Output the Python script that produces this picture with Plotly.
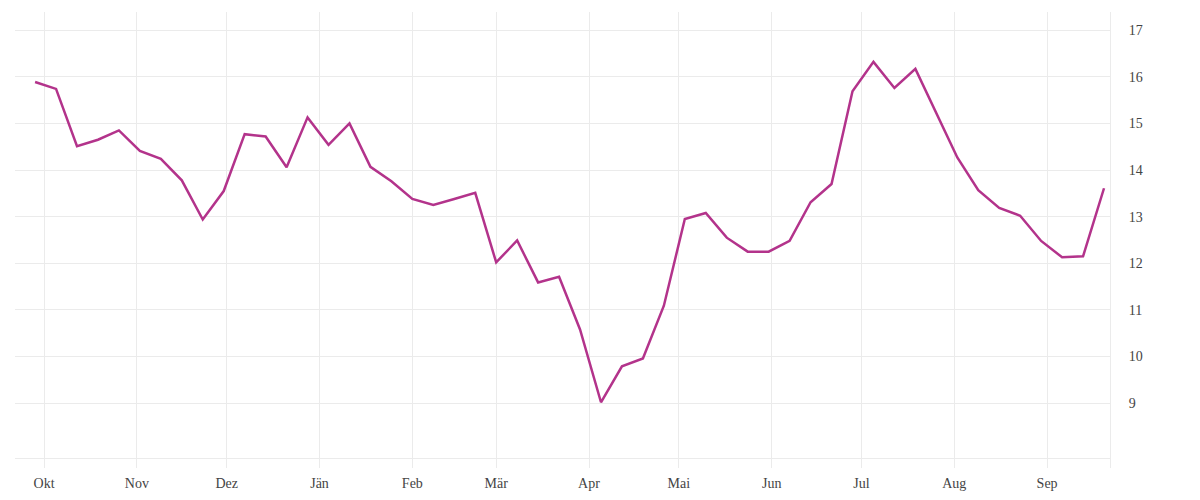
"""Weekly line chart with German month labels and right-hand y axis."""

import pandas as pd
import plotly.graph_objects as go

# Weekly values, starting Sunday 2014-09-28
start_date = "2014-09-28"
values = [
    15.89, 15.74, 14.51, 14.65, 14.85, 14.41, 14.24, 13.78, 12.94, 13.55,
    14.77, 14.72, 14.06, 15.13, 14.54, 15.00, 14.07, 13.76, 13.38, 13.25,
    13.38, 13.51, 12.02, 12.49, 11.59, 11.71, 10.58, 9.02, 9.79, 9.96,
    11.09, 12.95, 13.08, 12.55, 12.25, 12.25, 12.48, 13.31, 13.70, 15.69,
    16.32, 15.76, 16.17, 15.21, 14.27, 13.57, 13.19, 13.02, 12.48, 12.13,
    12.15, 13.61,
]

# Month ticks (Austrian German)
month_starts = [
    "2014-10-01", "2014-11-01", "2014-12-01", "2015-01-01", "2015-02-01",
    "2015-03-01", "2015-04-01", "2015-05-01", "2015-06-01", "2015-07-01",
    "2015-08-01", "2015-09-01",
]
month_labels = ["Okt", "Nov", "Dez", "Jän", "Feb", "Mär", "Apr", "Mai", "Jun", "Jul", "Aug", "Sep"]
y_ticks = [9, 10, 11, 12, 13, 14, 15, 16, 17]

dates = pd.date_range(start_date, periods=len(values), freq="7D")

grid = "#ebebeb"
text_color = "#444444"

fig = go.Figure(
    go.Scatter(
        x=dates,
        y=values,
        mode="lines",
        line={"color": "#b3338b", "width": 2.5},
        hoverinfo="x+y",
    )
)

# page body adds ~8px margin, so the figure is a bit smaller than the window
fig.update_layout(
    width=1192,
    height=492,
    margin={"l": 7, "r": 90, "t": 4, "b": 32},
    paper_bgcolor="white",
    plot_bgcolor="white",
    showlegend=False,
    font={"family": "Liberation Serif, serif", "size": 14, "color": text_color},
)

fig.update_xaxes(
    range=["2014-09-21 07:00", "2015-09-22"],
    tickvals=month_starts,
    ticktext=month_labels,
    showgrid=True,
    gridcolor=grid,
    gridwidth=1,
    showline=True,
    linecolor=grid,
    linewidth=1,
    ticks="",
    anchor="free",
    position=10 / 456,
    zeroline=False,
    ticklabelstandoff=12,
)

fig.update_yaxes(
    range=[7.61, 17.39],
    side="right",
    tickvals=y_ticks,
    showgrid=True,
    gridcolor=grid,
    gridwidth=1,
    showline=True,
    linecolor=grid,
    linewidth=1,
    ticks="",
    zeroline=False,
    ticklabelstandoff=15,
)

fig.write_html("out.html")
